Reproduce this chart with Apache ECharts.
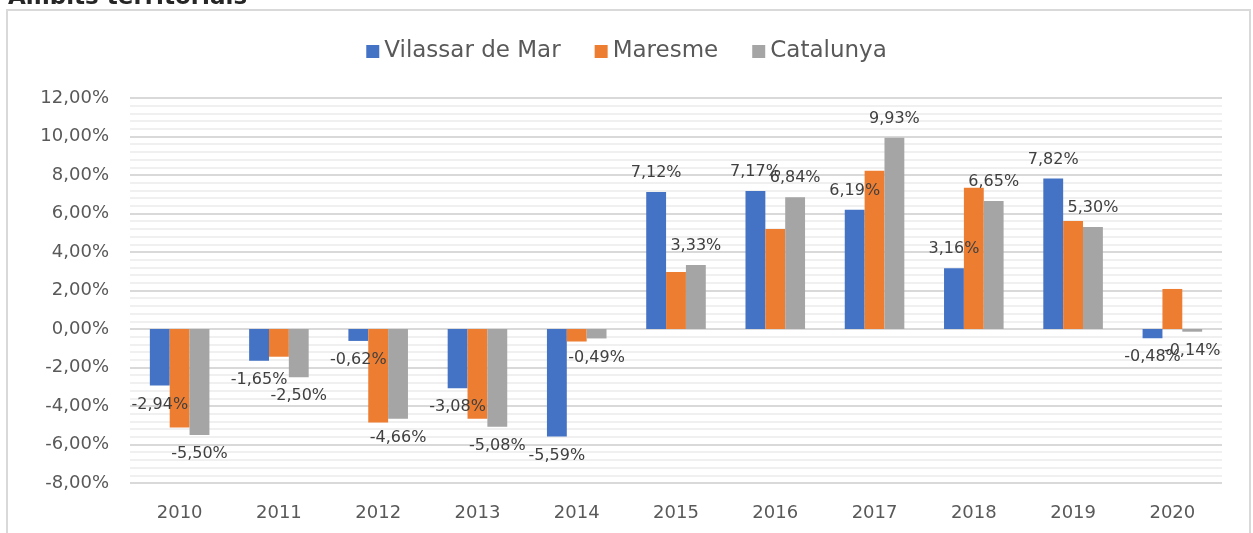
<!DOCTYPE html>
<html>
<head>
<meta charset="utf-8">
<style>
  html, body { margin: 0; padding: 0; background: #fff; }
  #chart { width: 1253px; height: 533px; }
</style>
<script src="https://cdn.jsdelivr.net/npm/echarts@6/dist/echarts.min.js"></script>
</head>
<body>
<div id="chart"></div>
<script>
  var years = ['2010', '2011', '2012', '2013', '2014', '2015', '2016', '2017', '2018', '2019', '2020'];
  var vilassar = [-2.94, -1.65, -0.62, -3.08, -5.59, 7.12, 7.17, 6.19, 3.16, 7.82, -0.48];
  var maresme = [-5.12, -1.44, -4.86, -4.66, -0.65, 2.96, 5.19, 8.22, 7.34, 5.61, 2.08];
  var catalunya = [-5.50, -2.50, -4.66, -5.08, -0.49, 3.33, 6.84, 9.93, 6.65, 5.30, -0.14];

  function pct(v) {
    return v.toFixed(2).replace('.', ',') + '%';
  }

  // labelled series: positive labels above, negative below the bar end
  function withLabels(arr) {
    return arr.map(function (v) {
      return { value: v, label: { position: v < 0 ? 'bottom' : 'top' } };
    });
  }

  var labelStyle = {
    show: true,
    distance: 11,
    fontFamily: 'DejaVu Sans',
    fontSize: 16,
    color: '#404040',
    formatter: function (p) { return pct(p.value); }
  };

  var chart = echarts.init(document.getElementById('chart'));
  chart.setOption({
    animation: false,
    textStyle: { fontFamily: 'DejaVu Sans' },
    graphic: [
      {
        type: 'rect',
        shape: { x: 7, y: 10, width: 1243, height: 540 },
        style: { fill: 'none', stroke: '#d9d9d9', lineWidth: 2 },
        z: -1
      },
      {
        // title sits mostly above the window, only its lower part shows
        type: 'text',
        style: {
          x: 8, y: -13,
          text: 'Àmbits territorials',
          fontFamily: 'DejaVu Sans',
          fontWeight: 'bold',
          fontSize: 23,
          fill: '#262626'
        }
      }
    ],
    legend: {
      top: 35,
      left: 'center',
      icon: 'rect',
      itemWidth: 13,
      itemHeight: 13,
      itemGap: 34,
      textStyle: { fontFamily: 'DejaVu Sans', fontSize: 23, color: '#595959' },
      data: ['Vilassar de Mar', 'Maresme', 'Catalunya']
    },
    grid: { left: 130, right: 31, top: 98, bottom: 50 },
    xAxis: {
      type: 'category',
      data: years,
      axisLine: { show: false, onZero: false },
      axisTick: { show: false },
      axisLabel: { margin: 21, fontSize: 18, color: '#595959', fontFamily: 'DejaVu Sans' }
    },
    yAxis: {
      type: 'value',
      min: -8,
      max: 12,
      interval: 2,
      axisLine: { show: false },
      axisTick: { show: false },
      axisLabel: {
        margin: 21, fontSize: 18, color: '#595959', fontFamily: 'DejaVu Sans',
        formatter: function (v) { return pct(v); }
      },
      splitLine: { lineStyle: { color: '#d9d9d9', width: 2 } },
      minorTick: { show: false, splitNumber: 5 },
      minorSplitLine: { show: true, lineStyle: { color: '#f0f0f0', width: 2 } }
    },
    series: [
      {
        name: 'Vilassar de Mar',
        type: 'bar',
        barGap: '0%',
        barCategoryGap: '40%',
        itemStyle: { color: '#4472C4' },
        label: labelStyle,
        data: withLabels(vilassar)
      },
      {
        name: 'Maresme',
        type: 'bar',
        barGap: '0%',
        barCategoryGap: '40%',
        itemStyle: { color: '#ED7D31' },
        data: maresme
      },
      {
        name: 'Catalunya',
        type: 'bar',
        barGap: '0%',
        barCategoryGap: '40%',
        itemStyle: { color: '#A5A5A5' },
        label: labelStyle,
        data: withLabels(catalunya)
      }
    ]
  });
</script>
</body>
</html>
